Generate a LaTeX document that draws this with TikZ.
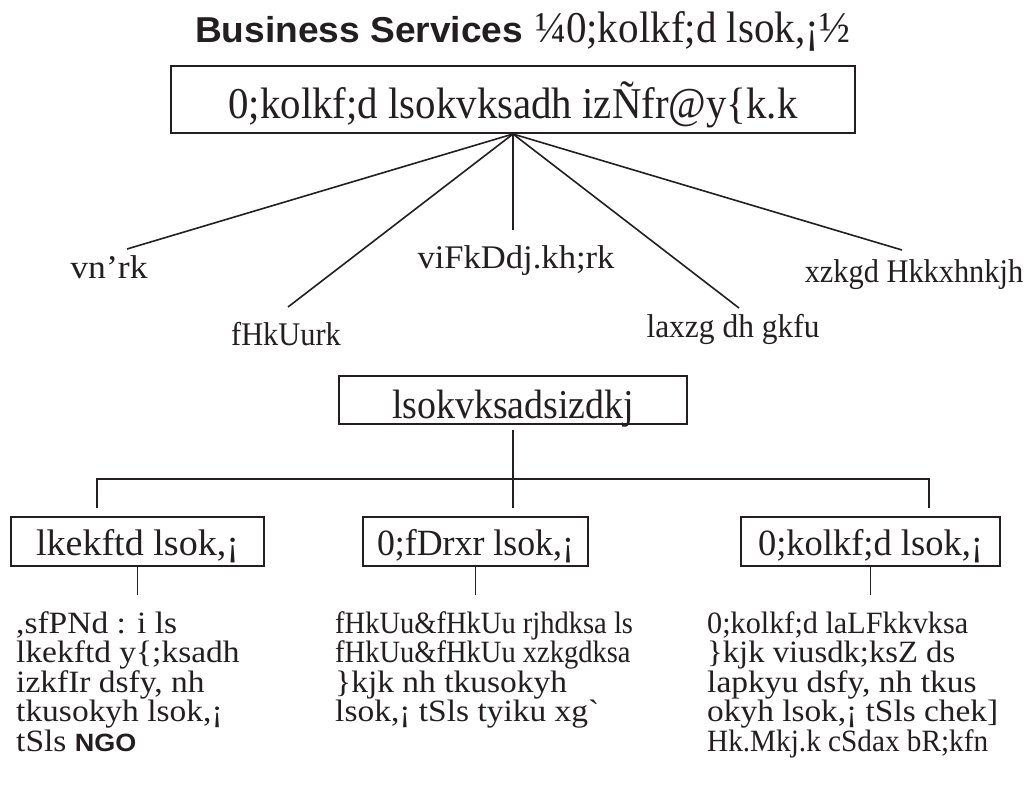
\documentclass[tikz,border=0pt]{standalone}
\usepackage{fontspec}
\setmainfont{Liberation Serif}
\setsansfont{Liberation Sans}
\usepackage{graphicx}
\newdimen\fwd
\newcommand\fw[2]{\sbox0{#2}\fwd=\wd0\relax\scalebox{\fpeval{max(0.92,min(1.08,#1/\fwd))}}[1]{\usebox0}}
\definecolor{ink}{HTML}{231F20}
\tikzset{
 box/.style={draw=ink, line width=2pt, inner sep=0pt, anchor=base, text=ink},
 lab/.style={inner sep=0pt, anchor=base, text=ink, font=\fontsize{33}{36}\selectfont},
 body/.style={inner sep=0pt, anchor=base west, text=ink, font=\fontsize{31}{34}\selectfont},
 conn/.style={draw=ink, line width=1.6pt},
}
\begin{document}
\begin{tikzpicture}[x=1pt,y=-1pt]
\useasboundingbox (0,0) rectangle (1027,807);
\fill[white] (0,0) rectangle (1027,807);
% title
\node[inner sep=0pt, anchor=base west, text=ink] (title) at (195,42)
  {\fw{328}{\fontsize{36}{40}\selectfont\sffamily\bfseries Business Services}\hspace{12pt}\fw{315}{\fontsize{44}{48}\selectfont ¼0;kolkf;d lsok,¡½}};
% top box
\node[box, minimum width=684pt, text height=52pt, text depth=15pt] (b1) at (513,118)
  {\fw{569}{\fontsize{44}{48}\selectfont 0;kolkf;d lsokvksadh izÑfr@y\{k.k}};
% labels
\node[lab] (l1) at (109,278) {\fw{88}{vn'rk}};
\node[lab] (l2) at (286,345) {\fw{92}{fHkUurk}};
\node[lab] (l3) at (516,268) {\fw{197}{viFkDdj.kh;rk}};
\node[lab] (l4) at (733,337) {\fw{173}{laxzg dh gkfu}};
\node[lab] (l5) at (914,282) {\fw{197}{xzkgd Hkkxhnkjh}};
\coordinate (e1) at (127,249);
\coordinate (e2) at (288,307);
\coordinate (e3) at (513,230);
\coordinate (e4) at (739,308);
\coordinate (e5) at (902,250);
\foreach \e in {e1,e2,e3,e4,e5} \draw[conn] (b1.south) -- (\e);
% middle box
\node[box, minimum width=348pt, text height=42pt, text depth=6pt] (mid) at (513,418)
  {\fw{242}{\fontsize{41}{44}\selectfont lsokvksadsizdkj}};
% small boxes
\node[box, minimum width=253pt, text height=38pt, text depth=11pt] (sa) at (137.5,555)
  {\fw{203}{\fontsize{37}{40}\selectfont lkekftd lsok,¡}};
\node[box, minimum width=225pt, text height=38pt, text depth=11pt] (sb) at (475.5,555)
  {\fw{197}{\fontsize{37}{40}\selectfont 0;fDrxr lsok,¡}};
\node[box, minimum width=259pt, text height=38pt, text depth=11pt] (sc) at (870.5,555)
  {\fw{225}{\fontsize{37}{40}\selectfont 0;kolkf;d lsok,¡}};
% tree
\coordinate (j) at (513,479);
\coordinate (ja) at (97,508);
\coordinate (jb) at (513,508);
\coordinate (jc) at (929,508);
\coordinate (m0) at (513,430);
\draw[conn] (m0) -- (jb);
\draw[conn] (ja) |- (j) -| (jc);
\coordinate (da) at (137.5,595);
\coordinate (db) at (475.5,595);
\coordinate (dc) at (870.5,595);
\draw[conn] (sa.south) -- (da);
\draw[conn] (sb.south) -- (db);
\draw[conn] (sc.south) -- (dc);
% left column
\node[body] (p1) at (16,633) {\fw{180}{,sfPNd : i ls}};
\node[body] (p2) at (16,662.5) {\fw{245}{lkekftd y\{;ksadh}};
\node[body] (p3) at (16,692) {\fw{215}{izkfIr dsfy, nh}};
\node[body] (p4) at (16,721.5) {\fw{215}{tkusokyh lsok,¡}};
\node[body] (p5) at (16,751) {\fw{128}{tSls {\fontsize{25}{27}\selectfont\sffamily\bfseries NGO}}};
% middle column
\node[body] (q1) at (335,633) {\fw{272}{fHkUu\&fHkUu rjhdksa ls}};
\node[body] (q2) at (335,662.5) {\fw{243}{fHkUu\&fHkUu xzkgdksa}};
\node[body] (q3) at (335,692) {\fw{235}{\}kjk nh tkusokyh}};
\node[body] (q4) at (335,721.5) {\fw{287}{lsok,¡ tSls tyiku xg\textasciigrave}};
% right column
\node[body] (r1) at (707,633) {\fw{261}{0;kolkf;d laLFkkvksa}};
\node[body] (r2) at (707,662.5) {\fw{248}{\}kjk viusdk;ksZ ds}};
\node[body] (r3) at (707,692) {\fw{310}{lapkyu dsfy, nh tkus}};
\node[body] (r4) at (707,721.5) {\fw{291}{okyh lsok,¡ tSls chek]}};
\node[body] (r5) at (707,751) {\fw{281}{Hk.Mkj.k cSdax bR;kfn}};
\end{tikzpicture}
\end{document}
